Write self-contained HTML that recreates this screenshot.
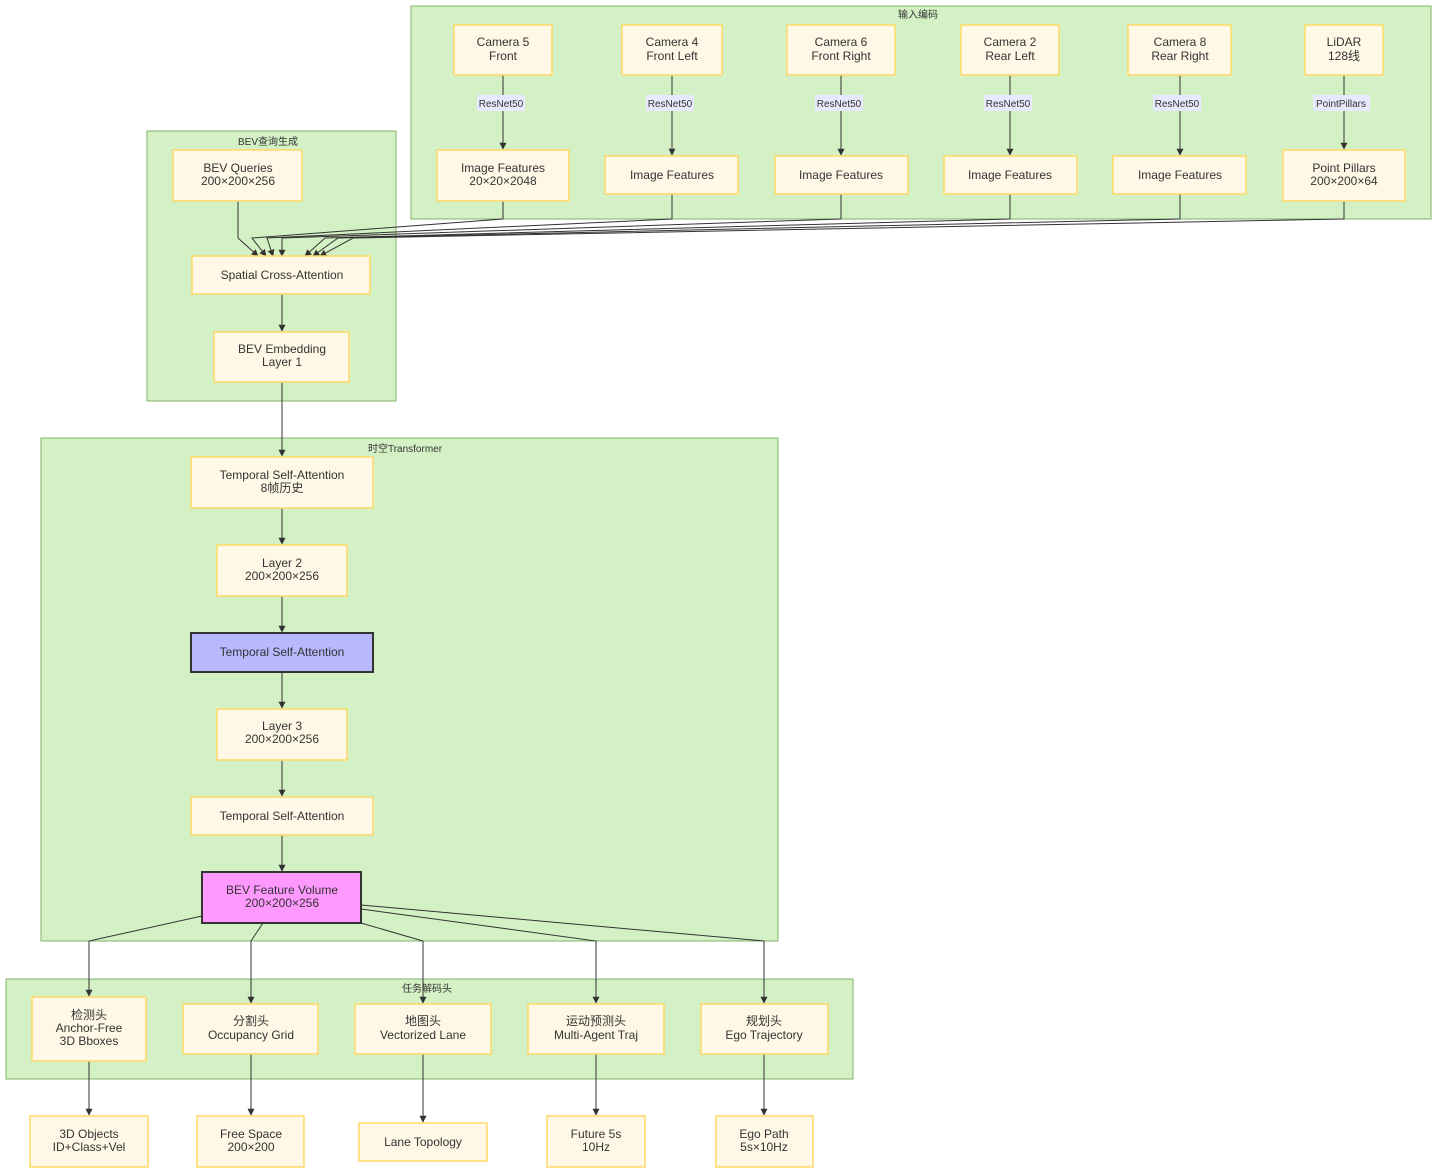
<!DOCTYPE html>
<html><head><meta charset="utf-8"><style>
body{margin:0;background:#fff}
svg{display:block}
text{font-family:"Liberation Sans","Noto Sans CJK SC",sans-serif;font-size:12px;fill:#333;text-anchor:middle}
.c{fill:#d4f1c5;stroke:#82b366;stroke-width:1}
.n{fill:#fff8e6;stroke:#ffd966;stroke-width:1.5}
.e{fill:none;stroke:#333;stroke-width:1}
.t{font-size:10px}
</style></head><body>
<svg width="1438" height="1174" viewBox="0 0 1438 1174" xmlns="http://www.w3.org/2000/svg">
<defs><marker id="a" viewBox="0 0 10 10" refX="9" refY="5" markerWidth="7" markerHeight="7" orient="auto"><path d="M0,0L10,5L0,10z" fill="#333"/></marker></defs>
<rect class="c" x="411" y="6" width="1020" height="213"/>
<text class="t" x="918" y="18">输入编码</text>
<rect class="c" x="147" y="131" width="249" height="270"/>
<text class="t" x="268" y="145">BEV查询生成</text>
<rect class="c" x="41" y="438" width="737" height="503"/>
<text class="t" x="405" y="452">时空Transformer</text>
<rect class="c" x="6" y="979" width="847" height="100"/>
<text class="t" x="427" y="992">任务解码头</text>

<g class="e">
<path d="M503,75V149" marker-end="url(#a)"/><path d="M672,75V155" marker-end="url(#a)"/><path d="M841,75V155" marker-end="url(#a)"/><path d="M1010,75V155" marker-end="url(#a)"/><path d="M1180,75V155" marker-end="url(#a)"/><path d="M1344,75V149" marker-end="url(#a)"/>
<path d="M238,201V238L258,256" marker-end="url(#a)"/>
<path d="M503,201V219L252,238L266,256" marker-end="url(#a)"/>
<path d="M672,194V219L267,238L273,256" marker-end="url(#a)"/>
<path d="M841,194V219L282,238V256" marker-end="url(#a)"/>
<path d="M1010,194V219L325,238L305,256" marker-end="url(#a)"/>
<path d="M1180,194V219L338,238L313,256" marker-end="url(#a)"/>
<path d="M1344,201V219L353,238L320,256" marker-end="url(#a)"/>
<path d="M282,294V331" marker-end="url(#a)"/>
<path d="M282,382V456" marker-end="url(#a)"/>
<path d="M282,508V544" marker-end="url(#a)"/>
<path d="M282,596V632" marker-end="url(#a)"/>
<path d="M282,672V708" marker-end="url(#a)"/>
<path d="M282,760V796" marker-end="url(#a)"/>
<path d="M282,835V871" marker-end="url(#a)"/>
<path d="M202,916L89,941V996" marker-end="url(#a)"/>
<path d="M263,923L251,941V1003" marker-end="url(#a)"/>
<path d="M361,923L423,941V1003" marker-end="url(#a)"/>
<path d="M361,909L596,941V1003" marker-end="url(#a)"/>
<path d="M361,905L764,941V1003" marker-end="url(#a)"/>
<path d="M89,1061V1115" marker-end="url(#a)"/>
<path d="M251,1054V1115" marker-end="url(#a)"/>
<path d="M423,1054V1122" marker-end="url(#a)"/>
<path d="M596,1054V1115" marker-end="url(#a)"/>
<path d="M764,1054V1115" marker-end="url(#a)"/>
</g>

<g fill="#e8e8ff">
<rect x="477" y="95" width="48" height="16"/><rect x="646" y="95" width="48" height="16"/><rect x="815" y="95" width="48" height="16"/><rect x="984" y="95" width="48" height="16"/><rect x="1153" y="95" width="48" height="16"/><rect x="1313" y="95" width="57" height="16"/>
</g>
<g class="t"><text class="t" x="501" y="107">ResNet50</text><text class="t" x="670" y="107">ResNet50</text><text class="t" x="839" y="107">ResNet50</text><text class="t" x="1008" y="107">ResNet50</text><text class="t" x="1177" y="107">ResNet50</text><text class="t" x="1341" y="107">PointPillars</text></g>

<g>
<rect class="n" x="454" y="25" width="98" height="50"/><text x="503" y="46">Camera 5</text><text x="503" y="60">Front</text>
<rect class="n" x="622" y="25" width="100" height="50"/><text x="672" y="46">Camera 4</text><text x="672" y="60">Front Left</text>
<rect class="n" x="787" y="25" width="108" height="50"/><text x="841" y="46">Camera 6</text><text x="841" y="60">Front Right</text>
<rect class="n" x="961" y="25" width="98" height="50"/><text x="1010" y="46">Camera 2</text><text x="1010" y="60">Rear Left</text>
<rect class="n" x="1128" y="25" width="103" height="50"/><text x="1180" y="46">Camera 8</text><text x="1180" y="60">Rear Right</text>
<rect class="n" x="1305" y="25" width="78" height="50"/><text x="1344" y="46">LiDAR</text><text x="1344" y="60">128线</text>
<rect class="n" x="437" y="150" width="132" height="51"/><text x="503" y="172">Image Features</text><text x="503" y="185">20×20×2048</text>
<rect class="n" x="605" y="156" width="133" height="38"/><text x="672" y="179">Image Features</text>
<rect class="n" x="775" y="156" width="133" height="38"/><text x="841" y="179">Image Features</text>
<rect class="n" x="944" y="156" width="133" height="38"/><text x="1010" y="179">Image Features</text>
<rect class="n" x="1113" y="156" width="133" height="38"/><text x="1180" y="179">Image Features</text>
<rect class="n" x="1283" y="150" width="122" height="51"/><text x="1344" y="172">Point Pillars</text><text x="1344" y="185">200×200×64</text>
<rect class="n" x="173" y="150" width="129" height="51"/><text x="238" y="172">BEV Queries</text><text x="238" y="185">200×200×256</text>
<rect class="n" x="192" y="256" width="178" height="38"/><text x="282" y="279">Spatial Cross-Attention</text>
<rect class="n" x="214" y="332" width="135" height="50"/><text x="282" y="353">BEV Embedding</text><text x="282" y="366">Layer 1</text>
<rect class="n" x="191" y="457" width="182" height="51"/><text x="282" y="479">Temporal Self-Attention</text><text x="282" y="492">8帧历史</text>
<rect class="n" x="217" y="545" width="130" height="51"/><text x="282" y="567">Layer 2</text><text x="282" y="580">200×200×256</text>
<rect x="191" y="633" width="182" height="39" fill="#b8b8ff" stroke="#333" stroke-width="2"/><text x="282" y="656">Temporal Self-Attention</text>
<rect class="n" x="217" y="709" width="130" height="51"/><text x="282" y="730">Layer 3</text><text x="282" y="743">200×200×256</text>
<rect class="n" x="191" y="797" width="182" height="38"/><text x="282" y="820">Temporal Self-Attention</text>
<rect x="202" y="872" width="159" height="51" fill="#ff99ff" stroke="#333" stroke-width="2"/><text x="282" y="894">BEV Feature Volume</text><text x="282" y="907">200×200×256</text>
<rect class="n" x="32" y="997" width="114" height="64"/><text x="89" y="1019">检测头</text><text x="89" y="1032">Anchor-Free</text><text x="89" y="1045">3D Bboxes</text>
<rect class="n" x="183" y="1004" width="135" height="50"/><text x="251" y="1025">分割头</text><text x="251" y="1039">Occupancy Grid</text>
<rect class="n" x="355" y="1004" width="136" height="50"/><text x="423" y="1025">地图头</text><text x="423" y="1039">Vectorized Lane</text>
<rect class="n" x="528" y="1004" width="136" height="50"/><text x="596" y="1025">运动预测头</text><text x="596" y="1039">Multi-Agent Traj</text>
<rect class="n" x="701" y="1004" width="127" height="50"/><text x="764" y="1025">规划头</text><text x="764" y="1039">Ego Trajectory</text>
<rect class="n" x="30" y="1116" width="118" height="51"/><text x="89" y="1138">3D Objects</text><text x="89" y="1151">ID+Class+Vel</text>
<rect class="n" x="197" y="1116" width="107" height="51"/><text x="251" y="1138">Free Space</text><text x="251" y="1151">200×200</text>
<rect class="n" x="359" y="1123" width="128" height="38"/><text x="423" y="1146">Lane Topology</text>
<rect class="n" x="547" y="1116" width="98" height="51"/><text x="596" y="1138">Future 5s</text><text x="596" y="1151">10Hz</text>
<rect class="n" x="716" y="1116" width="97" height="51"/><text x="764" y="1138">Ego Path</text><text x="764" y="1151">5s×10Hz</text>
</g>
</svg>
</body></html>
